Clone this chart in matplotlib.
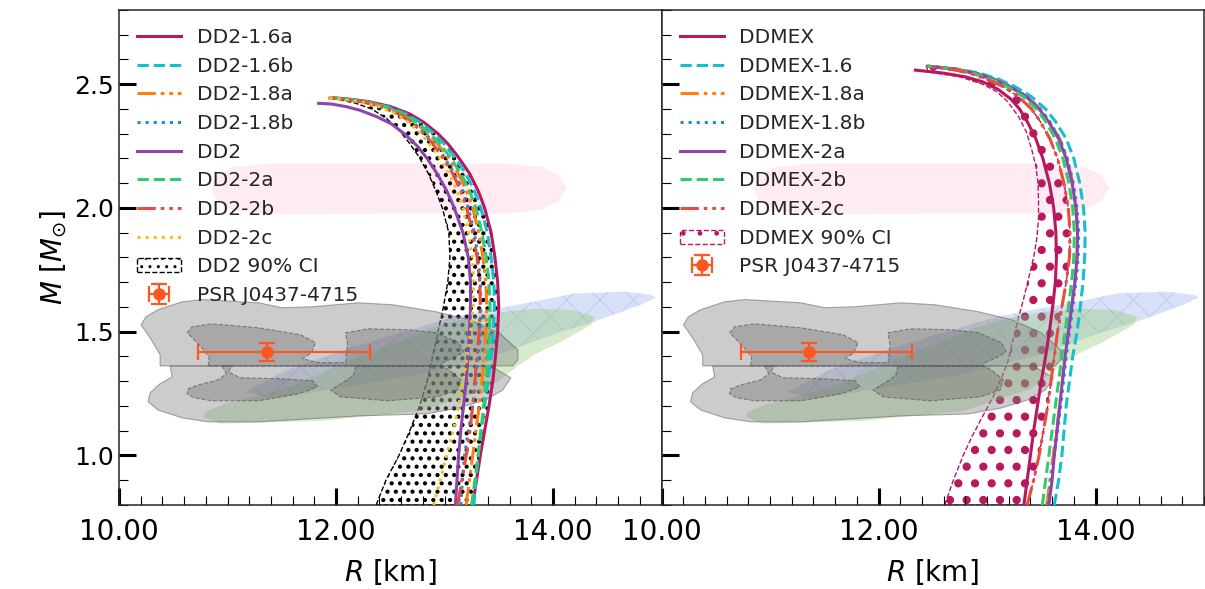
import numpy as np
import matplotlib
matplotlib.use("Agg")
import matplotlib.pyplot as plt
from matplotlib.patches import Patch, Polygon
from matplotlib.ticker import MultipleLocator, FormatStrFormatter

# ---------------- data ----------------
# DD2 family (left panel)
M_dd2_grid = [0.80, 0.90, 1.00, 1.10, 1.20, 1.30, 1.40, 1.50, 1.60, 1.70, 1.80, 1.90,
              2.00, 2.07, 2.14, 2.21, 2.26, 2.30, 2.346, 2.38, 2.41, 2.43, 2.44, 2.445]
R_dd2_16a = [13.26, 13.295, 13.33, 13.37, 13.41, 13.445, 13.47, 13.49, 13.50, 13.49, 13.465, 13.43,
             13.37, 13.31, 13.23, 13.12, 13.03, 12.94, 12.81, 12.68, 12.50, 12.30, 12.12, 11.98]
R_dd2_16b = [13.27, 13.29, 13.31, 13.34, 13.37, 13.40, 13.43, 13.45, 13.46, 13.455, 13.43, 13.395,
             13.335, 13.275, 13.195, 13.085, 12.995, 12.905, 12.775, 12.645, 12.47, 12.27, 12.10, 11.97]
R_dd2_18a = [13.20, 13.23, 13.26, 13.29, 13.32, 13.345, 13.365, 13.38, 13.39, 13.38, 13.355, 13.315,
             13.26, 13.20, 13.125, 13.02, 12.935, 12.85, 12.73, 12.605, 12.44, 12.25, 12.08, 11.95]
R_dd2_18b = [13.15, 13.165, 13.185, 13.22, 13.26, 13.29, 13.31, 13.33, 13.335, 13.33, 13.31, 13.275,
             13.22, 13.165, 13.09, 12.99, 12.905, 12.825, 12.71, 12.585, 12.42, 12.24, 12.07, 11.94]
R_dd2_2a = [13.25, 13.28, 13.31, 13.335, 13.36, 13.38, 13.40, 13.415, 13.42, 13.41, 13.385, 13.345,
            13.29, 13.23, 13.15, 13.045, 12.955, 12.87, 12.745, 12.62, 12.45, 12.26, 12.09, 11.96]
R_dd2_2b = [13.12, 13.16, 13.20, 13.235, 13.26, 13.28, 13.30, 13.32, 13.33, 13.325, 13.30, 13.26,
            13.205, 13.15, 13.075, 12.975, 12.89, 12.81, 12.695, 12.575, 12.41, 12.23, 12.06, 11.93]
R_dd2_2c = [12.90, 12.96, 13.02, 13.08, 13.13, 13.17, 13.21, 13.24, 13.265, 13.27, 13.255, 13.22,
            13.17, 13.115, 13.04, 12.945, 12.86, 12.785, 12.67, 12.555, 12.39, 12.21, 12.05, 11.92]
M_dd2 = [0.80, 0.90, 1.00, 1.10, 1.20, 1.30, 1.40, 1.50, 1.60, 1.70, 1.80, 1.90,
         2.00, 2.07, 2.14, 2.20, 2.25, 2.30, 2.34, 2.37, 2.395, 2.41, 2.42, 2.423]
R_dd2 = [13.10, 13.115, 13.13, 13.15, 13.175, 13.20, 13.215, 13.23, 13.24, 13.24, 13.22, 13.17,
         13.09, 13.02, 12.93, 12.84, 12.75, 12.63, 12.51, 12.37, 12.22, 12.09, 11.96, 11.84]
# DD2 90% CI: left boundary (right boundary follows DD2-1.6a)
M_dd2_ci_left = [0.80, 0.90, 1.00, 1.10, 1.20, 1.30, 1.40, 1.50, 1.60, 1.70, 1.80, 1.90,
                 2.00, 2.07, 2.14, 2.21, 2.26, 2.31, 2.36, 2.40, 2.425, 2.44]
R_dd2_ci_left = [12.37, 12.46, 12.58, 12.68, 12.77, 12.84, 12.89, 12.94, 12.99, 13.03, 13.05, 13.04,
                 12.98, 12.92, 12.85, 12.76, 12.68, 12.59, 12.47, 12.33, 12.17, 12.00]

# DDMEX family (right panel)
M_mex_grid = [0.80, 0.90, 1.00, 1.10, 1.20, 1.30, 1.40, 1.50, 1.60, 1.70, 1.80, 1.90,
              2.00, 2.10, 2.20, 2.28, 2.35, 2.40, 2.45, 2.49, 2.52, 2.545, 2.562, 2.573]
R_mex_16 = [13.62, 13.66, 13.69, 13.71, 13.73, 13.76, 13.79, 13.83, 13.86, 13.885, 13.90, 13.905,
            13.89, 13.855, 13.80, 13.73, 13.63, 13.54, 13.41, 13.26, 13.11, 12.93, 12.72, 12.46]
R_mex_18a = [13.55, 13.58, 13.61, 13.64, 13.67, 13.695, 13.72, 13.75, 13.78, 13.81, 13.83, 13.835,
             13.82, 13.79, 13.74, 13.67, 13.575, 13.49, 13.37, 13.22, 13.07, 12.90, 12.70, 12.46]
R_mex_18b = [13.56, 13.59, 13.62, 13.65, 13.68, 13.705, 13.73, 13.76, 13.79, 13.82, 13.84, 13.845,
             13.83, 13.795, 13.74, 13.67, 13.575, 13.49, 13.37, 13.22, 13.07, 12.90, 12.70, 12.46]
R_mex_2a = [13.57, 13.60, 13.62, 13.645, 13.67, 13.695, 13.72, 13.75, 13.78, 13.81, 13.83, 13.835,
            13.82, 13.785, 13.73, 13.66, 13.565, 13.48, 13.36, 13.21, 13.06, 12.89, 12.69, 12.45]
R_mex_2b = [13.51, 13.54, 13.57, 13.60, 13.63, 13.66, 13.69, 13.72, 13.75, 13.78, 13.80, 13.805,
            13.79, 13.755, 13.70, 13.63, 13.54, 13.455, 13.335, 13.19, 13.04, 12.875, 12.68, 12.45]
R_mex_2c = [13.37, 13.43, 13.48, 13.52, 13.56, 13.59, 13.62, 13.65, 13.69, 13.73, 13.76, 13.765,
            13.75, 13.71, 13.65, 13.58, 13.49, 13.41, 13.29, 13.15, 13.00, 12.84, 12.65, 12.45]
M_mex = [0.80, 0.90, 1.00, 1.10, 1.20, 1.30, 1.40, 1.50, 1.60, 1.70, 1.80, 1.90,
         2.00, 2.10, 2.20, 2.28, 2.35, 2.40, 2.44, 2.48, 2.51, 2.53, 2.545, 2.557]
R_mex = [13.34, 13.37, 13.40, 13.43, 13.465, 13.50, 13.54, 13.575, 13.605, 13.63, 13.64, 13.635,
         13.615, 13.575, 13.515, 13.45, 13.37, 13.30, 13.22, 13.10, 12.96, 12.80, 12.60, 12.34]
# DDMEX 90% CI: left boundary (right boundary follows DDMEX-2c)
M_mex_ci_left = [0.80, 0.90, 1.00, 1.075, 1.15, 1.24, 1.30, 1.375, 1.45, 1.54, 1.62, 1.71, 1.80,
                 1.88, 1.96, 2.03, 2.10, 2.17, 2.24, 2.31, 2.37, 2.43, 2.47, 2.50, 2.53, 2.55]
R_mex_ci_left = [12.61, 12.69, 12.78, 12.86, 12.95, 13.06, 13.12, 13.19, 13.23, 13.28, 13.33, 13.38,
                 13.43, 13.46, 13.475, 13.475, 13.47, 13.45, 13.41, 13.36, 13.29, 13.19, 13.09,
                 12.96, 12.75, 12.45]

# PSR J0437-4715
psr_R, psr_R_lo, psr_R_hi = 11.36, 0.63, 0.95
psr_M, psr_M_err = 1.418, 0.037

# pink band (high-mass pulsar constraint)
pink_R = [10.85, 10.90, 11.05, 11.40, 13.60, 13.90, 14.05, 14.13, 14.05, 13.90, 13.60,
          11.40, 11.05, 10.90]
pink_M = [2.08, 2.13, 2.165, 2.18, 2.18, 2.165, 2.135, 2.08, 2.025, 1.995, 1.978,
          1.975, 1.99, 2.03]

# GW contours (gray): outer 90% and inner 50%
gw_up_outer_R = [10.379, 10.379, 10.286, 10.203, 10.249, 10.360, 10.582, 10.767, 11.284, 11.506, 11.783, 12.208, 12.522, 12.919, 13.224, 13.501, 13.677, 13.677, 13.630]
gw_up_outer_M = [1.362, 1.407, 1.476, 1.528, 1.561, 1.589, 1.621, 1.630, 1.617, 1.597, 1.601, 1.617, 1.609, 1.581, 1.549, 1.496, 1.427, 1.387, 1.362]
gw_lo_outer_R = [10.471, 10.490, 10.379, 10.286, 10.268, 10.360, 10.582, 10.822, 11.284, 11.903, 12.208, 12.827, 13.132, 13.381, 13.538, 13.612, 13.473, 13.427]
gw_lo_outer_M = [1.362, 1.318, 1.290, 1.253, 1.217, 1.184, 1.152, 1.136, 1.136, 1.152, 1.160, 1.168, 1.192, 1.225, 1.265, 1.314, 1.350, 1.362]
gw_up_inner_R = [10.822, 10.831, 10.730, 10.628, 10.674, 10.859, 11.284, 11.672, 11.811, 11.774, 11.690, 11.838, 12.088, 12.106, 12.088, 12.300, 12.670, 12.919, 13.132, 13.178, 13.104, 12.983, 12.965]
gw_up_inner_M = [1.362, 1.399, 1.451, 1.496, 1.520, 1.532, 1.516, 1.488, 1.456, 1.415, 1.391, 1.375, 1.375, 1.447, 1.496, 1.512, 1.508, 1.496, 1.456, 1.419, 1.399, 1.375, 1.362]
gw_lo_inner1_R = [10.952, 10.989, 10.915, 10.730, 10.637, 10.628, 10.693, 10.859, 11.284, 11.653, 11.829, 11.783, 11.487, 11.118, 11.007, 11.044]
gw_lo_inner1_M = [1.362, 1.330, 1.306, 1.285, 1.269, 1.249, 1.233, 1.221, 1.221, 1.249, 1.277, 1.302, 1.310, 1.314, 1.338, 1.362]
gw_lo_inner2_R = [12.180, 12.162, 12.106, 11.949, 12.042, 12.476, 12.938, 13.123, 13.150, 13.039, 12.965]
gw_lo_inner2_M = [1.362, 1.326, 1.306, 1.265, 1.237, 1.221, 1.237, 1.265, 1.306, 1.346, 1.362]

# Green band
green_R = [10.776, 10.794, 10.979, 11.284, 11.598, 11.903, 12.208, 12.522, 12.919, 13.289, 13.630, 13.843, 14.166, 14.388, 14.351, 14.074, 13.843, 13.677, 13.400, 12.781, 11.857, 10.933]
green_M = [1.156, 1.176, 1.209, 1.241, 1.282, 1.338, 1.399, 1.451, 1.520, 1.565, 1.585, 1.593, 1.589, 1.561, 1.528, 1.459, 1.411, 1.362, 1.269, 1.180, 1.140, 1.128]
# Blue band
blue_R = [11.16, 11.55, 12.16, 12.78, 13.09, 13.82, 14.20, 14.66, 14.90, 14.95, 14.81, 14.51, 14.35, 14.05, 13.50, 12.80, 12.00, 11.40]
blue_M = [1.257, 1.346, 1.439, 1.520, 1.561, 1.621, 1.655, 1.662, 1.650, 1.638, 1.609, 1.561, 1.536, 1.496, 1.41, 1.33, 1.27, 1.23]

# ---------------- styles ----------------
C_CRIM = '#b8195e'
C_CYAN = '#17becf'
C_ORNG = '#ff7f0e'
C_BLUE = '#1e88e5'
C_PURP = '#8e44ad'
C_GREN = '#2ecc71'
C_RED = '#e74c3c'
C_YELL = '#f1c40f'
C_PSR = '#ff5722'
DASHDOTDOT = (0, (6, 1.6, 1.2, 1.6, 1.2, 1.6))

left_curves = [
    ('DD2-1.6a', M_dd2_grid, R_dd2_16a, C_CRIM, '-'),
    ('DD2-1.6b', M_dd2_grid, R_dd2_16b, C_CYAN, '--'),
    ('DD2-1.8a', M_dd2_grid, R_dd2_18a, C_ORNG, DASHDOTDOT),
    ('DD2-1.8b', M_dd2_grid, R_dd2_18b, C_BLUE, ':'),
    ('DD2', M_dd2, R_dd2, C_PURP, '-'),
    ('DD2-2a', M_dd2_grid, R_dd2_2a, C_GREN, '--'),
    ('DD2-2b', M_dd2_grid, R_dd2_2b, C_RED, DASHDOTDOT),
    ('DD2-2c', M_dd2_grid, R_dd2_2c, C_YELL, ':'),
]
right_curves = [
    ('DDMEX', M_mex, R_mex, C_CRIM, '-'),
    ('DDMEX-1.6', M_mex_grid, R_mex_16, C_CYAN, '--'),
    ('DDMEX-1.8a', M_mex_grid, R_mex_18a, C_ORNG, DASHDOTDOT),
    ('DDMEX-1.8b', M_mex_grid, R_mex_18b, C_BLUE, ':'),
    ('DDMEX-2a', M_mex_grid, R_mex_2a, C_PURP, '-'),
    ('DDMEX-2b', M_mex_grid, R_mex_2b, C_GREN, '--'),
    ('DDMEX-2c', M_mex_grid, R_mex_2c, C_RED, DASHDOTDOT),
]

fig = plt.figure(figsize=(12.05, 5.89), dpi=100)
fig.subplots_adjust(left=119 / 1205, right=1204 / 1205, bottom=1 - 505 / 589,
                    top=1 - 10 / 589, wspace=0)
ax1 = fig.add_subplot(1, 2, 1)
ax2 = fig.add_subplot(1, 2, 2, sharey=ax1)


def set_hlw(p, lw):
    if hasattr(p, 'set_hatch_linewidth'):
        p.set_hatch_linewidth(lw)


def draw_background(ax):
    ax.fill(pink_R, pink_M, facecolor=(1.0, 0.75, 0.82, 0.3), edgecolor='none', zorder=0.5)
    bp = Polygon(np.column_stack([blue_R, blue_M]), closed=True,
                 facecolor=(0.27, 0.41, 0.88, 0.2), edgecolor=(0.55, 0.65, 0.95, 0.35),
                 hatch='x', linewidth=0, zorder=1.1)
    set_hlw(bp, 0.8)
    ax.add_patch(bp)
    ax.fill(green_R, green_M, facecolor=(0.55, 0.78, 0.42, 0.35), edgecolor='none', zorder=1.2)
    ax.fill(gw_up_outer_R, gw_up_outer_M, facecolor=(0.5, 0.5, 0.5, 0.4),
            edgecolor=(0.35, 0.35, 0.35, 0.5), linewidth=0.8, zorder=1.3)
    ax.fill(gw_lo_outer_R, gw_lo_outer_M, facecolor=(0.5, 0.5, 0.5, 0.4),
            edgecolor=(0.35, 0.35, 0.35, 0.5), linewidth=0.8, zorder=1.3)
    for rr, mm in [(gw_up_inner_R, gw_up_inner_M), (gw_lo_inner1_R, gw_lo_inner1_M),
                   (gw_lo_inner2_R, gw_lo_inner2_M)]:
        ax.fill(rr, mm, facecolor=(0.4, 0.4, 0.4, 0.35), edgecolor=(0.3, 0.3, 0.3, 0.6),
                linewidth=0.8, linestyle='--', zorder=1.4)


def draw_psr(ax):
    return ax.errorbar([psr_R], [psr_M], xerr=[[psr_R_lo], [psr_R_hi]], yerr=[psr_M_err],
                       fmt='o', color=C_PSR, markersize=8, elinewidth=1.6, capsize=6,
                       capthick=1.6, zorder=4, label='PSR J0437-4715')


# ---- left panel ----
draw_background(ax1)
ci1 = Polygon(np.column_stack([R_dd2_ci_left + R_dd2_16a[::-1],
                               M_dd2_ci_left + M_dd2_grid[::-1]]), closed=True,
              facecolor='none', edgecolor='k', linestyle='--', linewidth=1.0,
              hatch='..', zorder=1.0)
set_hlw(ci1, 1.8)
ax1.add_patch(ci1)
handles1 = []
for lab, mm, rr, c, ls in left_curves:
    h, = ax1.plot(rr, mm, color=c, linestyle=ls, linewidth=2.2, label=lab, zorder=3)
    handles1.append(h)
handles1.append(Patch(facecolor='none', edgecolor='k', linestyle='--', hatch='..',
                      label='DD2 90% CI'))
handles1.append(draw_psr(ax1))

# ---- right panel ----
draw_background(ax2)
ci2 = Polygon(np.column_stack([R_mex_ci_left + R_mex_2c[::-1],
                               M_mex_ci_left + M_mex_grid[::-1]]), closed=True,
              facecolor='none', edgecolor=C_CRIM, linestyle='--', linewidth=1.0,
              hatch='.', zorder=1.0)
set_hlw(ci2, 3.5)
ax2.add_patch(ci2)
handles2 = []
for lab, mm, rr, c, ls in right_curves:
    h, = ax2.plot(rr, mm, color=c, linestyle=ls, linewidth=2.2, label=lab, zorder=3)
    handles2.append(h)
handles2.append(Patch(facecolor='none', edgecolor=C_CRIM, linestyle='--', hatch='.',
                      label='DDMEX 90% CI'))
handles2.append(draw_psr(ax2))

for ax, hs in [(ax1, handles1), (ax2, handles2)]:
    ax.set_xlim(10, 15)
    ax.set_ylim(0.8, 2.8)
    ax.xaxis.set_major_locator(MultipleLocator(2))
    ax.xaxis.set_minor_locator(MultipleLocator(0.2))
    ax.yaxis.set_major_locator(MultipleLocator(0.5))
    ax.yaxis.set_minor_locator(MultipleLocator(0.1))
    ax.xaxis.set_major_formatter(FormatStrFormatter('%.2f'))
    ax.yaxis.set_major_formatter(FormatStrFormatter('%.1f'))
    ax.tick_params(which='major', direction='in', length=12, width=2.2,
                   top=False, right=False)
    ax.tick_params(which='minor', direction='in', length=6.5, width=0.8,
                   top=False, right=False)
    ax.tick_params(axis='x', which='major', labelsize=20, pad=9)
    ax.tick_params(axis='y', which='major', labelsize=18)
    for s in ax.spines.values():
        s.set_color('0.15')
        s.set_linewidth(1.1)
    ax.set_xlabel(r'$R$ [km]', fontsize=20, labelpad=8)
    leg = ax.legend(handles=hs, loc='upper left', fontsize=14.5, frameon=False,
                    handlelength=2.2, handletextpad=0.75, labelspacing=0.48,
                    borderaxespad=0.5, borderpad=0.4)
    for t in leg.get_texts():
        t.set_color('0.15')
    leg.set_zorder(5)

ax2.tick_params(axis='y', which='both', labelleft=False)
ax1.set_ylabel(r'$M\ [M_{\odot}]$', fontsize=20)

fig.savefig('out.png', dpi=100)
